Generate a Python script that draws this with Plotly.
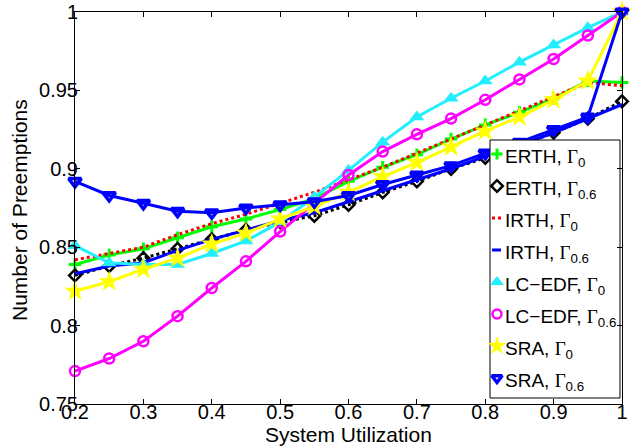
import plotly.graph_objects as go

# System utilization levels
utilization = [0.2, 0.25, 0.3, 0.35, 0.4, 0.45, 0.5, 0.55, 0.6, 0.65,
               0.7, 0.75, 0.8, 0.85, 0.9, 0.95, 1.0]

# Normalized number of preemptions per scheduler / parameter setting
erth_g0 = [0.839, 0.845, 0.849, 0.856, 0.863, 0.868, 0.874, 0.881, 0.892, 0.901,
           0.909, 0.919, 0.928, 0.936, 0.945, 0.956, 0.955]
erth_g06 = [0.832, 0.838, 0.843, 0.849, 0.855, 0.861, 0.866, 0.870, 0.877, 0.885,
            0.892, 0.900, 0.907, 0.915, 0.923, 0.932, 0.943]
irth_g0 = [0.842, 0.846, 0.850, 0.858, 0.865, 0.871, 0.878, 0.885, 0.893, 0.901,
           0.910, 0.919, 0.928, 0.937, 0.946, 0.955, 0.953]
irth_g06 = [0.833, 0.838, 0.840, 0.848, 0.855, 0.861, 0.867, 0.872, 0.879, 0.886,
            0.893, 0.900, 0.908, 0.915, 0.923, 0.932, 0.941]
lcedf_g0 = [0.851, 0.840, 0.839, 0.839, 0.846, 0.854, 0.866, 0.882, 0.899, 0.917,
            0.933, 0.945, 0.956, 0.968, 0.979, 0.990, 1.0]
lcedf_g06 = [0.771, 0.779, 0.790, 0.806, 0.824, 0.841, 0.860, 0.878, 0.896, 0.911,
             0.922, 0.932, 0.944, 0.957, 0.970, 0.985, 1.0]
sra_g0 = [0.822, 0.828, 0.836, 0.843, 0.852, 0.859, 0.868, 0.876, 0.885, 0.895,
          0.904, 0.914, 0.924, 0.933, 0.944, 0.956, 1.0]
sra_g06 = [0.892, 0.883, 0.878, 0.873, 0.872, 0.875, 0.877, 0.879, 0.883, 0.890,
           0.896, 0.902, 0.910, 0.917, 0.925, 0.933, 1.0]

x_ticks = [0.2, 0.3, 0.4, 0.5, 0.6, 0.7, 0.8, 0.9, 1.0]
x_tick_text = ["0.2", "0.3", "0.4", "0.5", "0.6", "0.7", "0.8", "0.9", "1"]
y_ticks = [0.75, 0.8, 0.85, 0.9, 0.95, 1.0]
y_tick_text = ["0.75", "0.8", "0.85", "0.9", "0.95", "1"]

SANS = "Liberation Sans, Arial, sans-serif"
GAMMA = '<span style="font-family:Liberation Serif">Γ</span>'


def label(name, sub):
    return f"{name}, {GAMMA}<sub>{sub}</sub>"


series = [
    dict(y=erth_g0, name=label("ERTH", "0"), color="#00ff00", dash="solid",
         symbol="cross-thin", msize=9, mline=3, lsize=8),
    dict(y=erth_g06, name=label("ERTH", "0.6"), color="#000000", dash="dot",
         symbol="diamond-open", msize=9, mline=2.5, lsize=9),
    dict(y=irth_g0, name=label("IRTH", "0"), color="#ff0000", dash="dot",
         symbol=None, msize=0, mline=0, lsize=0),
    dict(y=irth_g06, name=label("IRTH", "0.6"), color="#0000ff", dash="solid",
         symbol=None, msize=0, mline=0, lsize=0),
    dict(y=lcedf_g0, name=label("LC\u2212EDF", "0"), color="#22eeff", dash="solid",
         symbol="triangle-up", msize=13, mline=0, lsize=12),
    dict(y=lcedf_g06, name=label("LC\u2212EDF", "0.6"), color="#ff00ff", dash="solid",
         symbol="circle-open", msize=10, mline=2.5, lsize=9),
    dict(y=sra_g0, name=label("SRA", "0"), color="#ffff00", dash="solid",
         symbol="star", msize=16, mline=0, lsize=14),
    dict(y=sra_g06, name=label("SRA", "0.6"), color="#0000ff", dash="solid",
         symbol="triangle-down-open", msize=11, mline=3.5, lsize=9),
]

fig = go.Figure()

for s in series:
    mode = "lines+markers" if s["symbol"] else "lines"
    marker = dict(symbol=s["symbol"], size=s["msize"], color=s["color"],
                  line=dict(color=s["color"], width=s["mline"])) if s["symbol"] else None
    fig.add_trace(go.Scatter(
        x=utilization, y=s["y"], mode=mode, showlegend=False,
        line=dict(color=s["color"], width=3, dash=s["dash"]),
        marker=marker, cliponaxis=False,
    ))

# ---- Legend box drawn in plot-area fractions (overlay axes x2/y2 span the plot area) ----
PLOT_L, PLOT_R, PLOT_T, PLOT_B = 75, 622, 12, 404


def fx(px):
    return (px - PLOT_L) / (PLOT_R - PLOT_L)


def fy(py):
    return (PLOT_B - py) / (PLOT_B - PLOT_T)


box_l, box_r, box_t, box_b = 490, 620, 140, 398
row_y = [154, 186, 218, 250, 282, 314, 346, 378]
glyph_x, text_x = 497, 503

# opaque white legend frame, drawn after the data so it covers them
fig.add_trace(go.Scatter(
    x=[fx(box_l), fx(box_r), fx(box_r), fx(box_l), fx(box_l)],
    y=[fy(box_b), fy(box_b), fy(box_t), fy(box_t), fy(box_b)],
    xaxis="x2", yaxis="y2", mode="lines", fill="toself", fillcolor="white",
    line=dict(color="black", width=1), showlegend=False, hoverinfo="skip",
    cliponaxis=False,
))

annotations = []
for s, ry in zip(series, row_y):
    if s["symbol"]:
        fig.add_trace(go.Scatter(
            x=[fx(glyph_x)], y=[fy(ry)], xaxis="x2", yaxis="y2",
            mode="markers", showlegend=False, hoverinfo="skip", cliponaxis=False,
            marker=dict(symbol=s["symbol"], size=s["lsize"], color=s["color"],
                        line=dict(color=s["color"], width=s["mline"])),
        ))
    else:
        fig.add_trace(go.Scatter(
            x=[fx(glyph_x - 5), fx(glyph_x + 4)], y=[fy(ry), fy(ry)],
            xaxis="x2", yaxis="y2", mode="lines", showlegend=False,
            hoverinfo="skip", cliponaxis=False,
            line=dict(color=s["color"], width=3, dash=s["dash"]),
        ))
    annotations.append(dict(
        text=s["name"], xref="x2", yref="y2", x=fx(text_x), y=fy(ry),
        xanchor="left", yanchor="middle", yshift=-4, showarrow=False,
        font=dict(family=SANS, size=19, color="black"),
    ))

# Axis titles
annotations.append(dict(text="System Utilization", xref="paper", yref="paper",
                        x=0.5, y=0, xanchor="center", yanchor="middle", yshift=-30,
                        showarrow=False, font=dict(family=SANS, size=21, color="black")))
annotations.append(dict(text="Number of Preemptions", xref="paper", yref="paper",
                        x=0, y=fy(210), xanchor="center", yanchor="middle", xshift=-55,
                        textangle=-90, showarrow=False,
                        font=dict(family=SANS, size=21, color="black")))

tick_font = dict(family=SANS, size=20, color="black")

fig.update_layout(
    width=633, height=446,
    margin=dict(l=PLOT_L, r=633 - PLOT_R, t=PLOT_T, b=446 - PLOT_B),
    paper_bgcolor="white", plot_bgcolor="white",
    showlegend=False,
    annotations=annotations,
    xaxis=dict(
        range=[0.2, 1.0], tickvals=x_ticks, ticktext=x_tick_text,
        ticks="inside", ticklen=5, tickcolor="black", tickwidth=1,
        showline=True, linecolor="black", linewidth=1, mirror="ticks",
        showgrid=False, zeroline=False, tickfont=tick_font, automargin=False,
        ticklabelstandoff=-10,
    ),
    yaxis=dict(
        range=[0.75, 1.0], tickvals=y_ticks, ticktext=y_tick_text,
        ticks="inside", ticklen=5, tickcolor="black", tickwidth=1,
        showline=True, linecolor="black", linewidth=1, mirror="ticks",
        showgrid=False, zeroline=False, tickfont=tick_font, automargin=False,
        ticklabelstandoff=-8,
    ),
    xaxis2=dict(range=[0, 1], overlaying="x", visible=False, fixedrange=True),
    yaxis2=dict(range=[0, 1], overlaying="y", visible=False, fixedrange=True),
)

fig.write_html("out.html")
